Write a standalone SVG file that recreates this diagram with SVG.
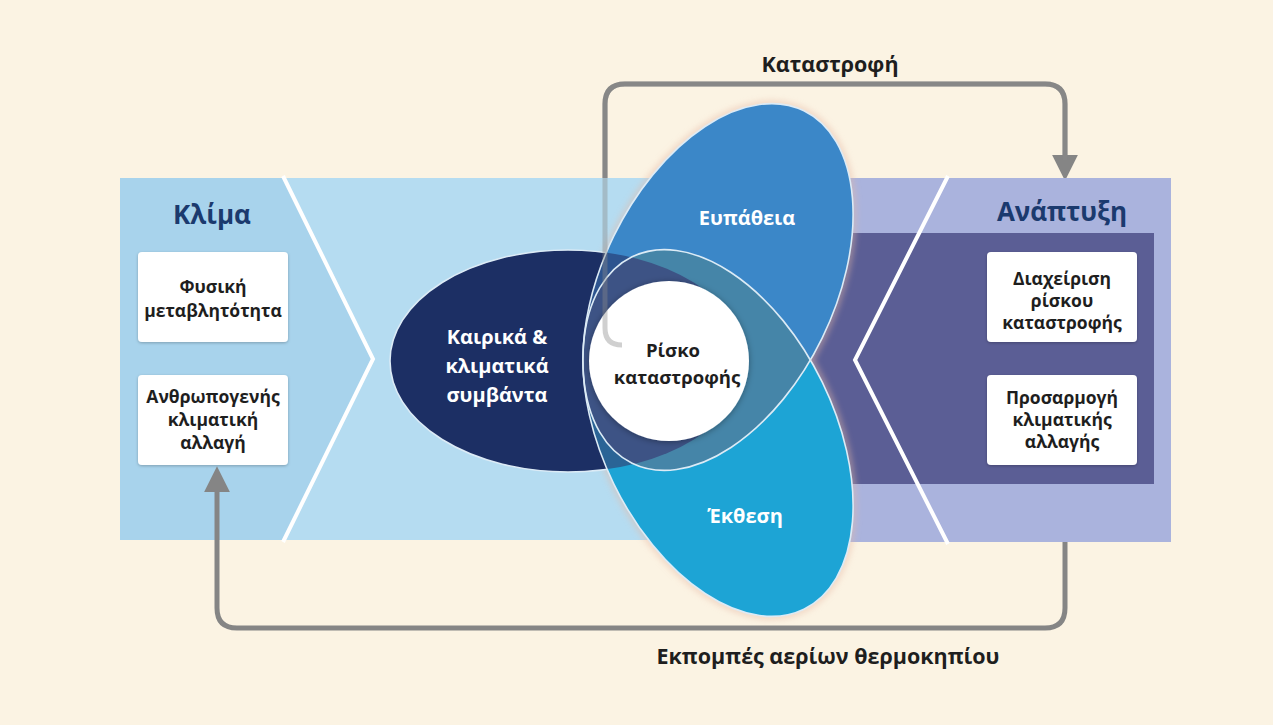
<svg xmlns="http://www.w3.org/2000/svg" width="1273" height="725" viewBox="0 0 1273 725">
  <defs>
    <style>
      .box { fill: #ffffff; filter: url(#sh); }
      .bt { font-family: "Open Sans", "Noto Sans", sans-serif; font-weight: 700; font-size: 17.5px; fill: #1e1e1e; text-anchor: middle; }
      .title { font-family: "Open Sans", "Noto Sans", sans-serif; font-weight: 700; font-size: 26px; fill: #1b3a6e; text-anchor: middle; }
      .el { font-family: "Open Sans", "Noto Sans", sans-serif; font-weight: 700; font-size: 20px; fill: #ffffff; text-anchor: middle; }
      .lab { font-family: "Open Sans", "Noto Sans", sans-serif; font-weight: 700; font-size: 18.5px; fill: #1e1e1e; text-anchor: middle; }
      .cap { font-family: "Open Sans", "Noto Sans", sans-serif; font-weight: 700; font-size: 21.5px; fill: #1e1e1e; text-anchor: middle; }
      .conn { fill: none; stroke: #858585; stroke-width: 5; stroke-linejoin: round; }
      .edge { fill: none; stroke: #dcebf6; stroke-width: 1.6; }
    </style>
    <filter id="sh" x="-10%" y="-10%" width="120%" height="130%">
      <feDropShadow dx="0" dy="1" stdDeviation="1.5" flood-color="#000" flood-opacity="0.25"/>
    </filter>
    <filter id="halo" x="-20%" y="-20%" width="140%" height="140%">
      <feGaussianBlur stdDeviation="3"/>
    </filter>
    <filter id="csh" x="-20%" y="-20%" width="140%" height="140%">
      <feDropShadow dx="0" dy="1" stdDeviation="3" flood-color="#000" flood-opacity="0.35"/>
    </filter>
    <ellipse id="eV" cx="0" cy="0" rx="196" ry="116" transform="translate(718,287) rotate(-64)"/>
    <ellipse id="eE" cx="0" cy="0" rx="196" ry="116" transform="translate(718,433) rotate(64)"/>
    <ellipse id="eN" cx="568" cy="361" rx="178" ry="111"/>
    <clipPath id="cV"><use href="#eV"/></clipPath>
    <clipPath id="cE"><use href="#eE"/></clipPath>
    <marker id="ah" viewBox="0 0 10 10" refX="2" refY="5" markerWidth="5.2" markerHeight="5.2" orient="auto" markerUnits="strokeWidth">
      <path d="M0,0 L10,5 L0,10 z" fill="#858585"/>
    </marker>
  </defs>

  <rect x="0" y="0" width="1273" height="725" fill="#fbf3e3"/>

  <!-- connector underlay (top loop, visible on cream) -->
  <g id="connectors-under">
    <path class="conn" d="M622,345 Q605,345 605,328 L605,104 Q605,84 625,84 L1045,84 Q1065,84 1065,104 L1065,160" marker-end="url(#ah)"/>
  </g>

  <!-- band -->
  <g id="band">
    <polygon points="120,178 283,178 373,359 283,540 120,540" fill="#a8d3ec"/>
    <polygon points="283,178 770,178 770,540 283,540 373,359" fill="#b5dcf1"/>
    <rect x="770" y="178" width="401" height="364" fill="#aab3dd"/>
    <rect x="770" y="233" width="384" height="251" fill="#5b5e95"/>
    <polyline points="283,176 373,359 283,542" fill="none" stroke="#ffffff" stroke-width="4"/>
    <polyline points="948,176 855,360 948,544" fill="none" stroke="#ffffff" stroke-width="4"/>
  </g>

  <!-- halos -->
  <g opacity="0.55" filter="url(#halo)" fill="none" stroke="#e6b9a6" stroke-width="6">
    <use href="#eV"/>
    <use href="#eE"/>
  </g>

  <g id="climate">
    <text class="title" x="212" y="224">Κλίμα</text>
  </g>
  <g id="development">
    <text class="title" x="1062" y="221">Ανάπτυξη</text>
  </g>

  <g id="box-natural">
    <rect class="box" x="138" y="252" width="150" height="90" rx="4"/>
    <text class="bt" x="213" y="293">Φυσική</text>
    <text class="bt" x="213" y="317">μεταβλητότητα</text>
  </g>
  <g id="box-anthropogenic">
    <rect class="box" x="138" y="375" width="150" height="90" rx="4"/>
    <text class="bt" x="213" y="403">Ανθρωπογενής</text>
    <text class="bt" x="213" y="426">κλιματική</text>
    <text class="bt" x="213" y="449">αλλαγή</text>
  </g>
  <g id="box-drm">
    <rect class="box" x="987" y="252" width="150" height="90" rx="4"/>
    <text class="bt" x="1062" y="285">Διαχείριση</text>
    <text class="bt" x="1062" y="307">ρίσκου</text>
    <text class="bt" x="1062" y="329">καταστροφής</text>
  </g>
  <g id="box-cca">
    <rect class="box" x="987" y="375" width="150" height="90" rx="4"/>
    <text class="bt" x="1062" y="404">Προσαρμογή</text>
    <text class="bt" x="1062" y="426">κλιματικής</text>
    <text class="bt" x="1062" y="448">αλλαγής</text>
  </g>

  <!-- ellipses -->
  <g id="events">
    <use href="#eN" fill="#1c2f64" stroke="#dcebf6" stroke-width="1.6"/>
  </g>
  <g id="vulnerability">
    <use href="#eV" fill="#3b87c8"/>
  </g>
  <g id="exposure">
    <use href="#eE" fill="#1da4d5"/>
  </g>
  <g id="overlaps">
    <use href="#eN" fill="#2d548f" clip-path="url(#cV)"/>
    <use href="#eN" fill="#2a6496" clip-path="url(#cE)"/>
    <g clip-path="url(#cV)">
      <use href="#eE" fill="#4585a8"/>
    </g>
    <g clip-path="url(#cV)">
      <use href="#eN" fill="#3d5385" clip-path="url(#cE)"/>
    </g>
  </g>
  <g id="edges">
    <use href="#eV" class="edge"/>
    <use href="#eE" class="edge"/>
  </g>
  <g id="events-label">
    <text class="el" x="497" y="344">Καιρικά &amp;</text>
    <text class="el" x="497" y="373">κλιματικά</text>
    <text class="el" x="497" y="402">συμβάντα</text>
  </g>
  <g id="vulnerability-label">
    <text class="el" x="747" y="225">Ευπάθεια</text>
  </g>
  <g id="exposure-label">
    <text class="el" x="745" y="523">Έκθεση</text>
  </g>

  <g id="risk">
    <circle cx="669" cy="361" r="80" fill="#ffffff" filter="url(#csh)"/>
  </g>

  <g id="connectors">
    <path d="M622,345 Q605,345 605,328 L605,104 Q605,84 625,84 L1045,84 Q1065,84 1065,104 L1065,160" fill="none" stroke="#8a8a8a" stroke-width="5" opacity="0.4"/>
    <path class="conn" d="M1065,542 L1065,608 Q1065,628 1045,628 L237,628 Q217,628 217,608 L217,487" marker-end="url(#ah)"/>
  </g>

  <g id="risk-label">
    <text class="lab" x="673" y="357">Ρίσκο</text>
    <text class="lab" x="677" y="384">καταστροφής</text>
  </g>

  <g id="labels">
    <text class="cap" x="830" y="72">Καταστροφή</text>
    <text class="cap" x="828" y="664">Εκπομπές αερίων θερμοκηπίου</text>
  </g>
</svg>
